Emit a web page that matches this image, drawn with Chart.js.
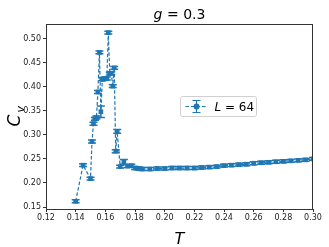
<!DOCTYPE html>
<html>
<head>
<meta charset="utf-8">
<script src="https://cdn.jsdelivr.net/npm/chart.js@4/dist/chart.umd.min.js"></script>
<style>
  html, body { margin: 0; padding: 0; background: #fff; }
  #wrap { width: 329px; height: 247px; }
</style>
</head>
<body>
<div id="wrap"><canvas id="cvChart" width="329" height="247"></canvas></div>
<script>
// data
var temps = [0.140, 0.145, 0.150, 0.151, 0.152, 0.153, 0.154, 0.155, 0.156, 0.157,
  0.158, 0.159, 0.160, 0.161, 0.162, 0.163, 0.164, 0.165, 0.166, 0.167,
  0.168, 0.170, 0.1725, 0.175, 0.1775, 0.180, 0.1825, 0.185,
  0.190, 0.195, 0.200, 0.205, 0.210, 0.215, 0.220, 0.225, 0.230, 0.235,
  0.240, 0.245, 0.250, 0.255, 0.260, 0.265, 0.270, 0.275, 0.280, 0.285,
  0.290, 0.295, 0.300];
var cv = [0.162, 0.237, 0.209, 0.286, 0.323, 0.333, 0.336, 0.389, 0.471, 0.348,
  0.415, 0.416, 0.417, 0.417, 0.512, 0.427, 0.428, 0.401, 0.439, 0.266,
  0.307, 0.234, 0.244, 0.235, 0.236, 0.231, 0.230, 0.229,
  0.229, 0.230, 0.230, 0.231, 0.231, 0.231, 0.231, 0.232, 0.233, 0.234,
  0.236, 0.237, 0.238, 0.239, 0.241, 0.242, 0.243, 0.244, 0.245, 0.246,
  0.247, 0.248, 0.250];
var cvErr = [0.003, 0.003, 0.003, 0.003, 0.003, 0.003, 0.003, 0.003, 0.003, 0.012,
  0.003, 0.003, 0.003, 0.003, 0.003, 0.003, 0.003, 0.003, 0.003, 0.003,
  0.004, 0.003, 0.005, 0.003, 0.003, 0.003, 0.003, 0.003,
  0.003, 0.003, 0.003, 0.003, 0.003, 0.003, 0.003, 0.003, 0.003, 0.003,
  0.003, 0.003, 0.003, 0.003, 0.003, 0.003, 0.003, 0.003, 0.003, 0.003,
  0.003, 0.003, 0.003];
var xTicks = [0.12, 0.14, 0.16, 0.18, 0.20, 0.22, 0.24, 0.26, 0.28, 0.30];
var yTicks = [0.15, 0.20, 0.25, 0.30, 0.35, 0.40, 0.45, 0.50];
var seriesLabel = "64";
var plotTitle = "0.3";

var blue = "#1f77b4";
var points = [];
for (var i = 0; i < temps.length; i++) {
  points.push({ x: temps[i], y: cv[i] });
}

// error bars drawn through the chart scales
var errorBars = {
  id: "errorBars",
  afterDatasetsDraw: function(chart) {
    var ctx = chart.ctx, xs = chart.scales.x, ys = chart.scales.y, a = chart.chartArea;
    ctx.save();
    ctx.beginPath();
    ctx.rect(a.left, a.top, a.right - a.left, a.bottom - a.top);
    ctx.clip();
    ctx.strokeStyle = blue;
    ctx.lineWidth = 1.5;
    for (var i = 0; i < temps.length; i++) {
      var px = xs.getPixelForValue(temps[i]);
      var y1 = ys.getPixelForValue(cv[i] + cvErr[i]);
      var y2 = ys.getPixelForValue(cv[i] - cvErr[i]);
      ctx.beginPath();
      ctx.moveTo(px, y1); ctx.lineTo(px, y2);
      ctx.moveTo(px - 4, y1); ctx.lineTo(px + 4, y1);
      ctx.moveTo(px - 4, y2); ctx.lineTo(px + 4, y2);
      ctx.stroke();
    }
    ctx.restore();
  }
};

// frame, titles and legend in matplotlib style
var decorations = {
  id: "decorations",
  afterDraw: function(chart) {
    var ctx = chart.ctx, a = chart.chartArea;
    ctx.save();
    ctx.strokeStyle = "#333";
    ctx.lineWidth = 1;
    ctx.strokeRect(a.left + 0.5, a.top + 0.5, a.right - a.left - 1, a.bottom - a.top);

    ctx.fillStyle = "#000";
    ctx.textBaseline = "alphabetic";
    // title
    ctx.font = "italic 14px 'DejaVu Sans'";
    var w1 = ctx.measureText("g").width;
    ctx.font = "14px 'DejaVu Sans'";
    var rest = " = " + plotTitle;
    var w2 = ctx.measureText(rest).width;
    var cx = (a.left + a.right) / 2 - (w1 + w2) / 2;
    ctx.font = "italic 14px 'DejaVu Sans'";
    ctx.textAlign = "left";
    ctx.fillText("g", cx, 19);
    ctx.font = "14px 'DejaVu Sans'";
    ctx.fillText(rest, cx + w1, 19);

    // x title
    ctx.font = "italic 16px 'DejaVu Sans'";
    ctx.textAlign = "center";
    ctx.fillText("T", (a.left + a.right) / 2, 244);

    // y title C_v
    ctx.save();
    ctx.translate(20, (a.top + a.bottom) / 2);
    ctx.rotate(-Math.PI / 2);
    ctx.font = "italic 17px 'DejaVu Sans'";
    ctx.textAlign = "left";
    var wc = ctx.measureText("C").width;
    ctx.fillText("C", -(wc + 8) / 2, 0);
    ctx.font = "italic 11px 'DejaVu Sans'";
    ctx.fillText("v", -(wc + 8) / 2 + wc + 2, 3.5);
    ctx.restore();

    // legend
    var lx = 180.5, ly = 96.5, lw = 76, lh = 20;
    ctx.fillStyle = "rgba(255,255,255,0.8)";
    ctx.strokeStyle = "#d0d0d0";
    ctx.lineWidth = 1;
    ctx.beginPath();
    ctx.roundRect(lx, ly, lw, lh, 2);
    ctx.fill();
    ctx.stroke();
    var my = ly + lh / 2;
    ctx.strokeStyle = blue;
    ctx.lineWidth = 1.2;
    ctx.setLineDash([3.5, 2]);
    ctx.beginPath();
    ctx.moveTo(lx + 5, my); ctx.lineTo(lx + 27, my);
    ctx.stroke();
    ctx.setLineDash([]);
    var mx = lx + 16;
    ctx.beginPath();
    ctx.moveTo(mx, my - 6); ctx.lineTo(mx, my + 6);
    ctx.moveTo(mx - 4, my - 6); ctx.lineTo(mx + 4, my - 6);
    ctx.moveTo(mx - 4, my + 6); ctx.lineTo(mx + 4, my + 6);
    ctx.stroke();
    ctx.fillStyle = blue;
    ctx.beginPath();
    ctx.arc(mx, my, 3, 0, Math.PI * 2);
    ctx.fill();
    ctx.fillStyle = "#000";
    ctx.textAlign = "left";
    ctx.textBaseline = "middle";
    ctx.font = "italic 12px 'DejaVu Sans'";
    var tx = lx + 34;
    ctx.fillText("L", tx, my + 1);
    var wl = ctx.measureText("L").width;
    ctx.font = "12px 'DejaVu Sans'";
    ctx.fillText(" = " + seriesLabel, tx + wl, my + 1);
    ctx.restore();
  }
};

var ctxC = document.getElementById("cvChart").getContext("2d");
var cvChart = new Chart(ctxC, {
  type: "scatter",
  data: {
    datasets: [
      {
        label: "L = " + seriesLabel,
        data: points,
        showLine: true,
        borderColor: blue,
        borderWidth: 1.2,
        borderDash: [3.5, 2],
        backgroundColor: blue,
        pointBackgroundColor: blue,
        pointBorderColor: blue,
        pointStyle: "rect",
        pointRadius: 3.3,
        pointBorderWidth: 0,
        tension: 0
      }
    ]
  },
  options: {
    responsive: false,
    animation: false,
    layout: { padding: { left: 0, right: 16, top: 24, bottom: 0 } },
    plugins: {
      legend: { display: false },
      tooltip: { enabled: false }
    },
    scales: {
      x: {
        type: "linear",
        min: 0.12,
        max: 0.30,
        afterBuildTicks: function(scale) {
          scale.ticks = xTicks.map(function(v) { return { value: v }; });
        },
        afterFit: function(scale) { scale.height = 38; },
        ticks: {
          autoSkip: false,
          maxRotation: 0,
          color: "#222",
          padding: 1,
          font: { family: "DejaVu Sans", size: 8 },
          callback: function(v) { return Number(v).toFixed(2); }
        },
        grid: { drawOnChartArea: false, tickLength: 3, color: "#333" },
        border: { display: true, color: "#333" }
      },
      y: {
        type: "linear",
        min: 0.146,
        max: 0.530,
        afterBuildTicks: function(scale) {
          scale.ticks = yTicks.map(function(v) { return { value: v }; });
        },
        afterFit: function(scale) { scale.width = 46; },
        ticks: {
          autoSkip: false,
          color: "#222",
          padding: 2,
          font: { family: "DejaVu Sans", size: 8 },
          callback: function(v) { return Number(v).toFixed(2); }
        },
        grid: { drawOnChartArea: false, tickLength: 3, color: "#333" },
        border: { display: true, color: "#333" }
      }
    }
  },
  plugins: [errorBars, decorations]
});
</script>
</body>
</html>
